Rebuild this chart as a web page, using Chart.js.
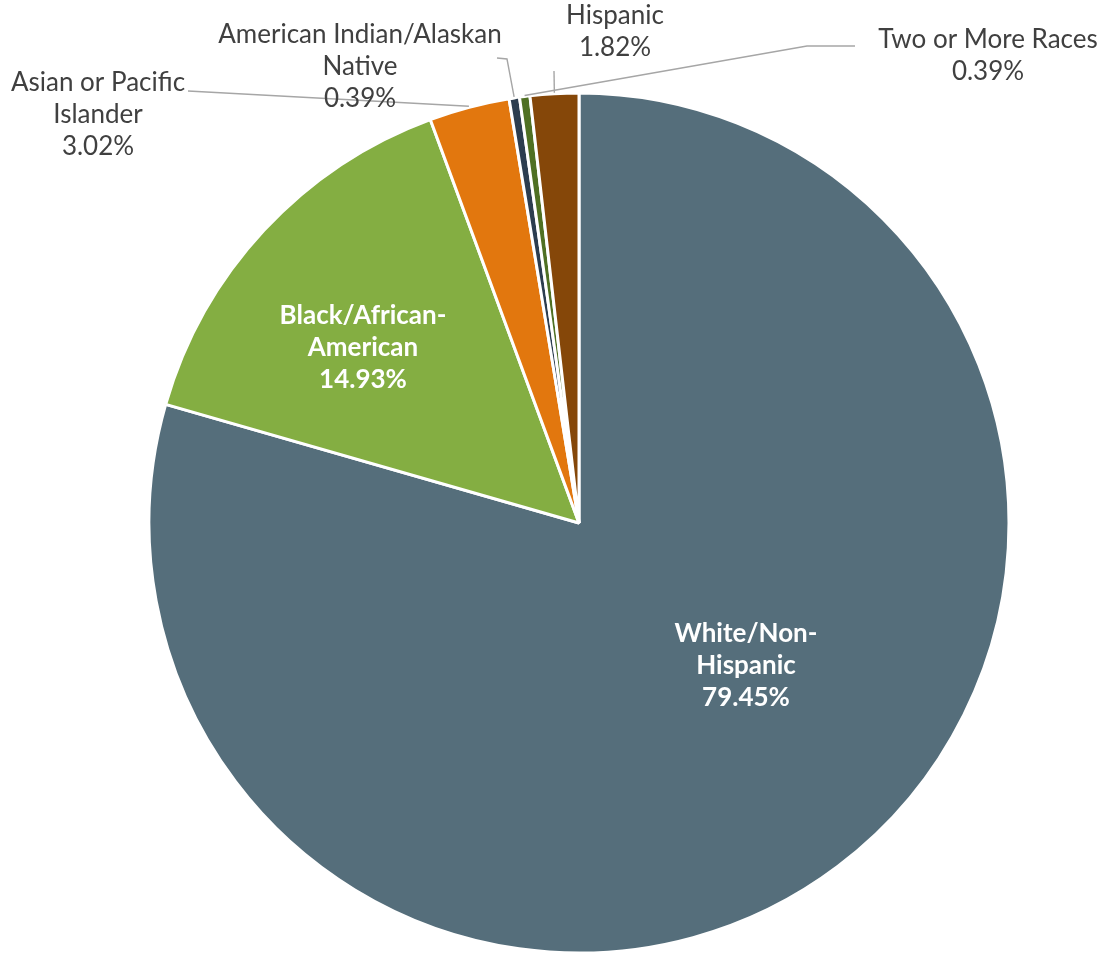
<!DOCTYPE html>
<html>
<head>
<meta charset="utf-8">
<script src="https://cdn.jsdelivr.net/npm/chart.js@4.4.1/dist/chart.umd.min.js"></script>
<style>
  html, body { margin: 0; padding: 0; background: #fff; }
  #wrap { width: 1104px; height: 955px; }
</style>
</head>
<body>
<div id="wrap"><canvas id="raceChart" width="1104" height="955"></canvas></div>
<script>
// enrollment share by race / ethnicity
const categories = [
    'White/Non-Hispanic',
    'Black/African-American',
    'Asian or Pacific Islander',
    'American Indian/Alaskan Native',
    'Two or More Races',
    'Hispanic'
];
const shares = [79.45, 14.93, 3.02, 0.39, 0.39, 1.82];
// how each category name wraps on the label
const nameLines = [
    ['White/Non-', 'Hispanic'],
    ['Black/African-', 'American'],
    ['Asian or Pacific', 'Islander'],
    ['American Indian/Alaskan', 'Native'],
    ['Two or More Races'],
    ['Hispanic']
];
const sliceColors = ['#556e7b', '#84ae42', '#e2770e', '#2c3d4f', '#4f7023', '#854709'];

// label placement, offsets from pie centre (px); leader = elbow points from label towards slice
const labelPlacement = [
    { dx: 167, dy: 143, inside: true },
    { dx: -216, dy: -175, inside: true },
    { dx: -481, dy: -408, leader: [[-391, -432]] },
    { dx: -219, dy: -456, leader: [[-72, -464], [-82, -465]] },
    { dx: 409, dy: -467, leader: [[228, -477], [276, -477]] },
    { dx: 36, dy: -491, leader: [[-25, -452]] }
];

const FONT = 'Lato, "Open Sans", sans-serif';

const pieLabels = {
    id: 'pieLabels',
    afterDatasetsDraw(chart) {
        const ctx = chart.ctx;
        const arcs = chart.getDatasetMeta(0).data;
        ctx.save();
        arcs.forEach((arc, i) => {
            const p = labelPlacement[i];
            const cx = arc.x, cy = arc.y;
            const lines = nameLines[i].concat([shares[i].toFixed(2) + '%']);

            if (!p.inside) {
                // leader line from the slice edge out to the label
                const mid = (arc.startAngle + arc.endAngle) / 2;
                const r = arc.outerRadius + 1;
                ctx.beginPath();
                ctx.moveTo(cx + Math.cos(mid) * r, cy + Math.sin(mid) * r);
                p.leader.forEach(pt => ctx.lineTo(cx + pt[0], cy + pt[1]));
                ctx.strokeStyle = '#a6a6a6';
                ctx.lineWidth = 1.4;
                ctx.stroke();
            }

            ctx.font = (p.inside ? 'bold ' : '') + '26px ' + FONT;
            ctx.fillStyle = p.inside ? '#ffffff' : '#404040';
            ctx.textAlign = 'center';
            ctx.textBaseline = 'middle';
            const lh = 32;
            const top = cy + p.dy - (lines.length - 1) * lh / 2;
            lines.forEach((t, k) => ctx.fillText(t, cx + p.dx, top + k * lh));
        });
        ctx.restore();
    }
};

new Chart(document.getElementById('raceChart'), {
    type: 'pie',
    data: {
        labels: categories,
        datasets: [{
            data: shares,
            backgroundColor: sliceColors,
            borderColor: '#ffffff',
            borderWidth: 3
        }]
    },
    options: {
        responsive: false,
        animation: false,
        events: [],
        layout: { padding: { left: 147.5, right: 93.5, top: 91.5, bottom: 0.5 } },
        plugins: {
            legend: { display: false },
            tooltip: { enabled: false }
        }
    },
    plugins: [pieLabels]
});
</script>
</body>
</html>
